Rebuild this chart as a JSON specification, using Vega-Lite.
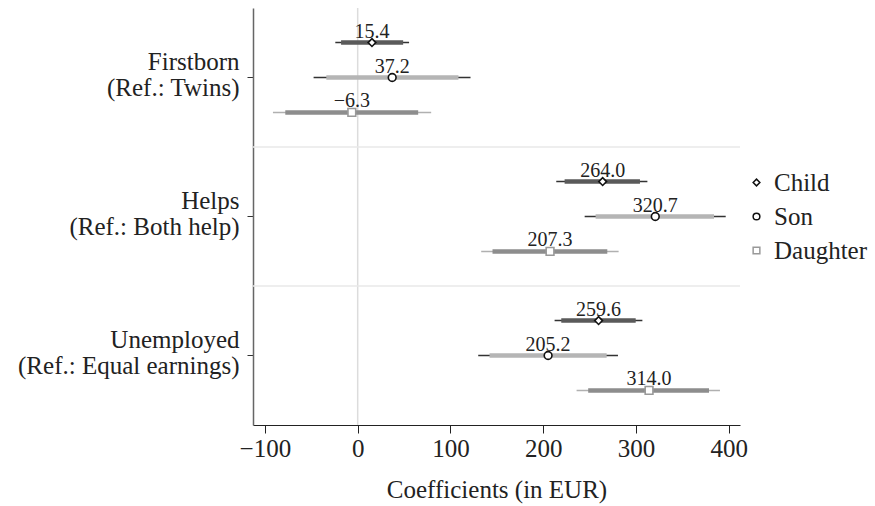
{
  "$schema": "https://vega.github.io/schema/vega-lite/v6.json",
  "autosize": "none",
  "width": 487,
  "height": 417,
  "padding": {"left": 253, "top": 8, "right": 135, "bottom": 81},
  "config": {"font": "Liberation Serif", "view": {"stroke": null}},
  "datasets": {
    "est": [
      {"group": "Firstborn|(Ref.: Twins)", "series": "Child", "est": 15.4, "lo95": -24.1, "hi95": 55.4, "lo90": -17.9, "hi90": 49.0},
      {"group": "Firstborn|(Ref.: Twins)", "series": "Son", "est": 37.2, "lo95": -47.5, "hi95": 121.6, "lo90": -33.8, "hi90": 108.6},
      {"group": "Firstborn|(Ref.: Twins)", "series": "Daughter", "est": -6.3, "lo95": -91.3, "hi95": 79.2, "lo90": -78.0, "hi90": 65.2},
      {"group": "Helps|(Ref.: Both help)", "series": "Child", "est": 264.0, "lo95": 214.0, "hi95": 312.2, "lo90": 223.0, "hi90": 304.2},
      {"group": "Helps|(Ref.: Both help)", "series": "Son", "est": 320.7, "lo95": 244.6, "hi95": 396.6, "lo90": 256.4, "hi90": 384.0},
      {"group": "Helps|(Ref.: Both help)", "series": "Daughter", "est": 207.3, "lo95": 133.1, "hi95": 281.2, "lo90": 145.3, "hi90": 269.0},
      {"group": "Unemployed|(Ref.: Equal earnings)", "series": "Child", "est": 259.6, "lo95": 212.2, "hi95": 306.8, "lo90": 219.4, "hi90": 299.6},
      {"group": "Unemployed|(Ref.: Equal earnings)", "series": "Son", "est": 205.2, "lo95": 129.9, "hi95": 280.5, "lo90": 142.1, "hi90": 268.3},
      {"group": "Unemployed|(Ref.: Equal earnings)", "series": "Daughter", "est": 314.0, "lo95": 235.9, "hi95": 390.4, "lo90": 248.4, "hi90": 378.6}
    ],
    "seps": [
      {"group": "Helps|(Ref.: Both help)"},
      {"group": "Unemployed|(Ref.: Equal earnings)"}
    ],
    "zero": [{"ref": 0}]
  },
  "layer": [
    {
      "data": {"name": "zero"},
      "mark": {"type": "rule", "color": "#dcdcdc", "strokeWidth": 1.5},
      "encoding": {
        "x": {"field": "ref", "type": "quantitative", "scale": {"domain": [-112.8, 412], "nice": false, "zero": false}}
      }
    },
    {
      "data": {"name": "seps"},
      "mark": {"type": "rule", "color": "#e8e8e8", "strokeWidth": 1.5},
      "encoding": {
        "y": {"field": "group", "type": "nominal", "bandPosition": 0,
          "scale": {"domain": ["Firstborn|(Ref.: Twins)", "Helps|(Ref.: Both help)", "Unemployed|(Ref.: Equal earnings)"], "paddingInner": 0, "paddingOuter": 0},
          "axis": {"title": null, "labelExpr": "split(datum.label, '|')", "labelFontSize": 25, "labelLineHeight": 26, "labelLimit": 400, "labelOffset": -16, "labelColor": "#222", "labelPadding": 8, "tickSize": 6, "tickColor": "#333", "domainColor": "#666", "domainWidth": 1.5, "grid": false}}
      }
    },
    {
      "data": {"name": "est"},
      "mark": {"type": "rule", "strokeWidth": 1.5},
      "encoding": {
        "x": {"field": "lo95", "type": "quantitative", "scale": {"domain": [-112.8, 412], "nice": false, "zero": false},
          "axis": {"title": "Coefficients (in EUR)", "values": [-100, 0, 100, 200, 300, 400], "format": "d", "labelFontSize": 25, "titleFontSize": 25, "titleFontWeight": "normal", "tickSize": 8, "domainColor": "#222", "tickColor": "#222", "labelColor": "#222", "titleColor": "#222", "grid": false, "labelPadding": 3, "labelFlush": false, "labelOverlap": false, "titlePadding": 16}},
        "x2": {"field": "hi95"},
        "y": {"field": "group", "type": "nominal"},
        "yOffset": {"field": "series", "type": "nominal", "scale": {"domain": ["Child", "Son", "Daughter"], "paddingOuter": 0.49, "paddingInner": 0}},
        "color": {"field": "series", "type": "nominal", "legend": null, "scale": {"domain": ["Child", "Son", "Daughter"], "range": ["#333333", "#333333", "#b0b0b0"]}}
      }
    },
    {
      "data": {"name": "est"},
      "mark": {"type": "rule", "strokeWidth": 4.5},
      "encoding": {
        "x": {"field": "lo90", "type": "quantitative"},
        "x2": {"field": "hi90"},
        "y": {"field": "group", "type": "nominal"},
        "yOffset": {"field": "series", "type": "nominal"},
        "color": {"field": "series", "type": "nominal", "legend": null, "scale": {"domain": ["Child", "Son", "Daughter"], "range": ["#5a5a5a", "#b5b5b5", "#8d8d8d"]}}
      }
    },
    {
      "data": {"name": "est"},
      "mark": {"type": "point", "filled": false, "fill": "white", "fillOpacity": 1, "opacity": 1, "strokeWidth": 1.6, "size": 60},
      "encoding": {
        "x": {"field": "est", "type": "quantitative"},
        "y": {"field": "group", "type": "nominal"},
        "yOffset": {"field": "series", "type": "nominal"},
        "shape": {"field": "series", "type": "nominal", "scale": {"domain": ["Child", "Son", "Daughter"], "range": ["diamond", "circle", "square"]},
          "legend": {"orient": "none", "legendX": 491, "legendY": 162, "title": null, "labelFontSize": 25, "labelColor": "#222", "symbolSize": 45, "symbolStrokeWidth": 1.5, "symbolFillColor": "white", "rowPadding": 8, "labelOffset": 5, "labelLimit": 200}},
        "stroke": {"field": "series", "type": "nominal", "scale": {"domain": ["Child", "Son", "Daughter"], "range": ["#111111", "#111111", "#999999"]}}
      }
    },
    {
      "data": {"name": "est"},
      "mark": {"type": "text", "baseline": "alphabetic", "dy": -5, "fontSize": 20, "color": "#222"},
      "encoding": {
        "x": {"field": "est", "type": "quantitative"},
        "y": {"field": "group", "type": "nominal"},
        "yOffset": {"field": "series", "type": "nominal"},
        "text": {"field": "est", "type": "quantitative", "format": ".1f"}
      }
    }
  ],
  "resolve": {"scale": {"color": "independent"}}
}
